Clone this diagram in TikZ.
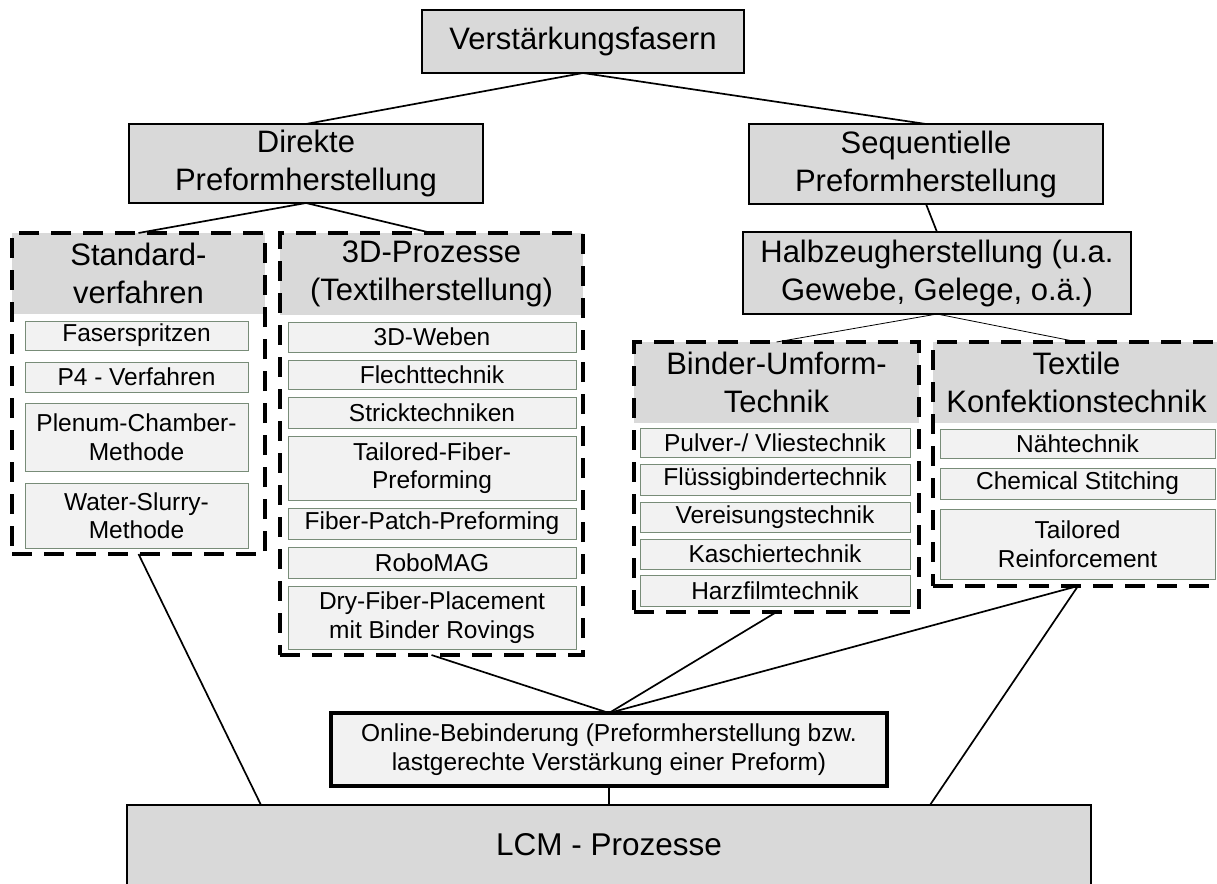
\documentclass[tikz,border=0pt]{standalone}
\usepackage{fontspec}
\setmainfont{Liberation Sans}

\definecolor{hdrgray}{RGB}{217,217,217}
\definecolor{subgray}{RGB}{242,242,242}
\definecolor{subline}{RGB}{120,140,120}

\newcommand{\bigsize}{\fontsize{31}{38}\selectfont}
\newcommand{\smallsize}{\fontsize{24.5}{28.5}\selectfont}

\begin{document}
\begin{tikzpicture}[x=1pt, y=-1pt,
  every node/.style={inner sep=0pt, outer sep=0pt, anchor=north west, align=center},
  topbox/.style={draw, line width=1.6pt, fill=hdrgray, font=\bigsize},
  hdr/.style={fill=hdrgray, font=\bigsize},
  sub/.style={draw=subline, line width=0.9pt, fill=subgray, font=\smallsize},
  group/.style={draw, line width=3.2pt, dash pattern=on 20pt off 12pt},
  onlinebox/.style={draw, line width=4pt, fill=subgray, font=\smallsize},
  link/.style={line width=1.7pt},
  thinlink/.style={line width=0.8pt}]
  \clip (0,0) rectangle (1217,883);

  % top levels
  \node[topbox, minimum width=322, minimum height=63] (verst) at (422,10) {Verstärkungsfasern};
  \node[topbox, minimum width=354, minimum height=79] (dir) at (129,124) {Direkte\\Preformherstellung};
  \node[topbox, minimum width=354, minimum height=80] (seq) at (749,124) {Sequentielle\\Preformherstellung};
  \node[topbox, minimum width=388, minimum height=82] (halb) at (743,232) {Halbzeugherstellung (u.a.\\Gewebe, Gelege, o.ä.)};

  % Standardverfahren
  \node[hdr, minimum width=253, minimum height=81] (stdhdr) at (12,233) {Standard-\\verfahren};
  \node[sub, minimum width=223, minimum height=29] (fs) at (25,321) {Faserspritzen};
  \node[sub, minimum width=223, minimum height=30] (p4) at (25,362) {P4 - Verfahren};
  \node[sub, minimum width=223, minimum height=68] (plenum) at (25,403) {Plenum-Chamber-\\Methode};
  \node[sub, minimum width=223, minimum height=65] (slurry) at (25,483) {Water-Slurry-\\Methode};
  \node[group, minimum width=253, minimum height=321] (std) at (12,233) {};

  % 3D-Prozesse
  \node[hdr, minimum width=303, minimum height=82] (tdhdr) at (280,233) {3D-Prozesse\\(Textilherstellung)};
  \node[sub, minimum width=288, minimum height=30] (weben) at (288,322) {3D-Weben};
  \node[sub, minimum width=288, minimum height=29] (flecht) at (288,360) {Flechttechnik};
  \node[sub, minimum width=288, minimum height=31] (strick) at (288,397) {Stricktechniken};
  \node[sub, minimum width=288, minimum height=64] (tfp) at (288,436) {Tailored-Fiber-\\Preforming};
  \node[sub, minimum width=288, minimum height=31] (fpp) at (288,508) {Fiber-Patch-Preforming};
  \node[sub, minimum width=288, minimum height=31] (robo) at (288,547) {RoboMAG};
  \node[sub, minimum width=288, minimum height=63] (dfp) at (288,586) {Dry-Fiber-Placement\\mit Binder Rovings};
  \node[group, minimum width=303, minimum height=422] (tdp) at (280,233) {};

  % Binder-Umform-Technik
  \node[hdr, minimum width=285, minimum height=81] (binhdr) at (634,342) {Binder-Umform-\\Technik};
  \node[sub, minimum width=270, minimum height=29] (pulver) at (640,428) {Pulver-/ Vliestechnik};
  \node[sub, minimum width=270, minimum height=31] (fluessig) at (640,464) {Flüssigbindertechnik};
  \node[sub, minimum width=270, minimum height=30] (vereis) at (640,502) {Vereisungstechnik};
  \node[sub, minimum width=270, minimum height=30] (kasch) at (640,539) {Kaschiertechnik};
  \node[sub, minimum width=270, minimum height=31] (harz) at (640,575) {Harzfilmtechnik};
  \node[group, minimum width=285, minimum height=270] (bin) at (634,342) {};

  % Textile Konfektionstechnik
  \node[hdr, minimum width=287, minimum height=81] (texhdr) at (933,342) {Textile\\Konfektionstechnik};
  \node[sub, minimum width=275, minimum height=29] (naeh) at (940,429) {Nähtechnik};
  \node[sub, minimum width=275, minimum height=31] (chem) at (940,468) {Chemical Stitching};
  \node[sub, minimum width=275, minimum height=70] (trein) at (940,509) {Tailored\\Reinforcement};
  \node[group, minimum width=290, minimum height=244] (tex) at (933,342) {};

  % bottom
  \node[onlinebox, minimum width=556, minimum height=73] (online) at (331,713)
    {Online-Bebinderung (Preformherstellung bzw.\\lastgerechte Verstärkung einer Preform)};
  \node[draw, line width=1.5pt, fill=hdrgray, font=\fontsize{31.5}{38}\selectfont,
    minimum width=964, minimum height=80] (lcm) at (127,805) {LCM - Prozesse};
  \coordinate (lcmL) at (261,805);
  \coordinate (lcmR) at (930,805);

  % connectors
  \draw[link] (verst.south) -- (dir.north);
  \draw[link] (verst.south) -- (seq.north);
  \draw[link] (dir.south) -- (std.north);
  \draw[link] (dir.south) -- (tdp.north);
  \draw[link] (seq.south) -- (halb.north);
  \draw[thinlink] (halb.south) -- (bin.north);
  \draw[thinlink] (halb.south) -- (tex.north);
  \draw[link] (std.south) -- (lcmL);
  \draw[link] (tdp.south) -- (online.north);
  \draw[link] (bin.south) -- (online.north);
  \draw[link] (tex.south) -- (online.north);
  \draw[link] (tex.south) -- (lcmR);
  \draw[link] (online.south) -- (online.south |- lcm.north);
\end{tikzpicture}
\end{document}
